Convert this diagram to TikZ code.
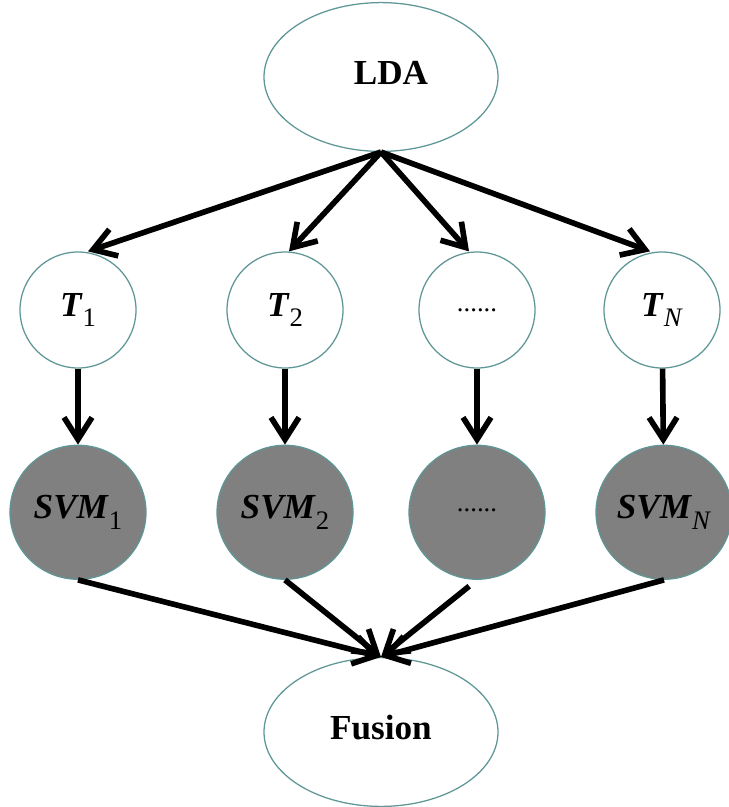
\documentclass[tikz,border=0pt]{standalone}
\usepackage{fontspec}
\setmainfont{Liberation Serif}
\usetikzlibrary{arrows.meta, positioning, shapes.geometric}
\definecolor{rimteal}{RGB}{95,150,150}
\definecolor{svmgray}{RGB}{128,128,128}
\newcommand{\idx}[1]{\raisebox{-0.3em}{\fontsize{19}{20}\selectfont #1}}

\begin{document}
\begin{tikzpicture}[
                bignode/.style={ellipse, draw=rimteal, line width=0.9pt, minimum width=5.85cm, minimum height=3.72cm,
                               font=\fontsize{25}{30}\selectfont\bfseries},
                topic/.style={circle, draw=rimteal, line width=0.9pt, minimum size=2.9cm, inner sep=0pt,
                             font=\fontsize{25}{30}\selectfont},
                classifier/.style={ellipse, draw=rimteal, fill=svmgray, line width=0.9pt, minimum width=3.4cm,
                                  minimum height=3.35cm, inner sep=0pt, font=\fontsize{25}{30}\selectfont},
                dotfill/.style={font=\fontsize{19}{20}\selectfont},
                flow/.style={-{Straight Barb[length=5.5mm, width=7mm]}, line width=4pt}]

                \useasboundingbox (0,0) rectangle (18.225,-20.175);

                % LDA on top
                \node[bignode] (lda) at (9.525,-1.925) {\raisebox{0.22cm}{\hspace{0.5cm}LDA}};

                % Topic subsets
                \node[topic] (t1) at (1.95,-7.75) {\textbf{\textit{T}}\idx{1}};
                \node[topic] (t2) at (7.125,-7.75) {\textbf{\textit{T}}\idx{2}};
                \node[topic, dotfill] (t3) at (11.925,-7.75) {......};
                \node[topic] (tn) at (16.55,-7.75) {\textbf{\textit{T}}\idx{\textit{N}}};

                % SVM classifiers - grey
                \node[classifier, below=1.9cm of t1] (svm1) {\textbf{\textit{SVM}}\idx{1}};
                \node[classifier, below=1.9cm of t2] (svm2) {\textbf{\textit{SVM}}\idx{2}};
                \node[classifier, dotfill, below=1.9cm of t3] (svm3) {\raisebox{0.1cm}{......}};
                \node[classifier, below=1.9cm of tn, xshift=0.05cm] (svmn) {\textbf{\textit{SVM}}\idx{\textit{N}}};

                % Fusion at the bottom
                \node[bignode] (fusion) at (9.525,-18.3) {\raisebox{0.22cm}{Fusion}};

                % LDA to topics
                \draw[flow] (lda.south) -- ([xshift=0.25cm]t1.north);
                \draw[flow] (lda.south) -- ([xshift=0.1cm]t2.north);
                \draw[flow] (lda.south) -- ([xshift=-0.2cm]t3.north);
                \draw[flow] (lda.south) -- ([xshift=-0.3cm]tn.north);

                % topics to SVMs
                \draw[flow] (t1) -- (svm1);
                \draw[flow] (t2) -- (svm2);
                \draw[flow] (t3) -- (svm3);
                \draw[flow] (tn) -- (svmn);

                % SVMs to fusion
                \draw[flow] (svm1.south) -- (fusion.north);
                \draw[flow] (svm2.south) -- (fusion.north);
                \draw[flow, shorten <=0.25cm] (svm3.south) -- (fusion.north);
                \draw[flow] (svmn.south) -- (fusion.north);
            \end{tikzpicture}
\end{document}
